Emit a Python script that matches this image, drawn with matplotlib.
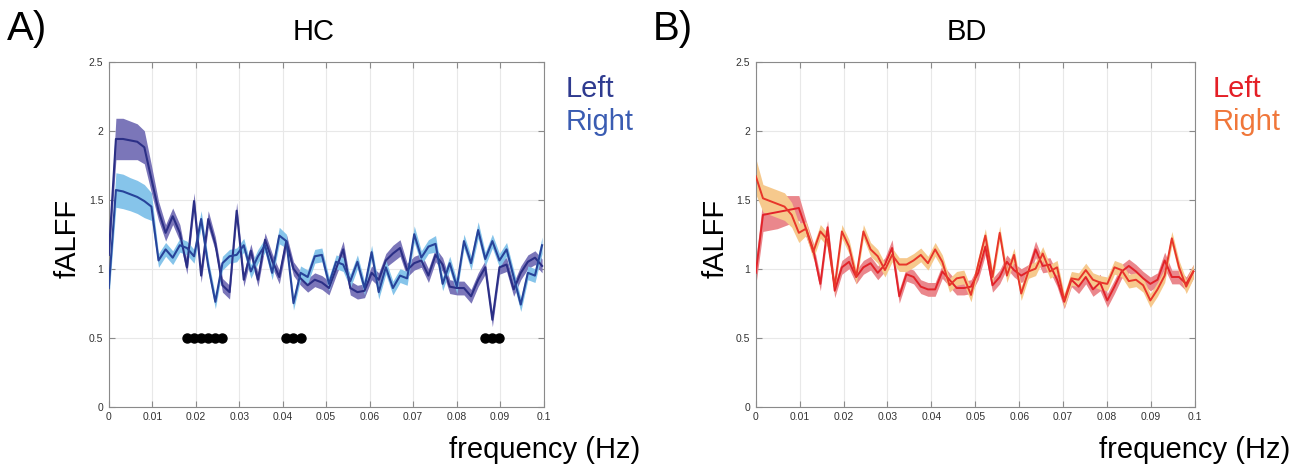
import numpy as np
import matplotlib
matplotlib.use("Agg")
import matplotlib.pyplot as plt

plt.rcParams['font.family'] = ['Liberation Sans', 'DejaVu Sans']

# Frequency bins (Hz): 306 volumes at TR = 2 s, kept up to 0.1 Hz
freq = np.arange(62) / 612.0

# ---- HC group: mean fALFF per frequency bin and its standard error ----
hc_left = [1.10, 1.94, 1.94, 1.93, 1.92, 1.88, 1.65, 1.42, 1.26, 1.38,
           1.26, 1.01, 1.49, 0.95, 1.36, 1.18, 0.88, 0.83, 1.42, 0.92,
           1.13, 0.92, 1.21, 1.06, 0.94, 1.20, 1.00, 0.93, 0.88, 0.92,
           0.90, 0.86, 1.00, 1.14, 0.86, 0.83, 0.84, 0.97, 0.92, 1.06,
           1.11, 1.15, 0.99, 1.04, 1.06, 0.95, 1.10, 1.03, 0.87, 0.86,
           0.86, 0.80, 0.92, 1.01, 0.63, 1.01, 1.03, 0.85, 0.97, 1.05,
           1.08, 1.02]
hc_left_se = [0.06, 0.15, 0.15, 0.14, 0.13, 0.12, 0.10, 0.07, 0.06, 0.06,
              0.06, 0.05, 0.06, 0.05, 0.06, 0.05, 0.05, 0.05, 0.06, 0.05,
              0.05, 0.05, 0.05, 0.05, 0.05, 0.05, 0.05, 0.05, 0.05, 0.05,
              0.05, 0.05, 0.05, 0.06, 0.05, 0.05, 0.05, 0.05, 0.05, 0.05,
              0.06, 0.06, 0.05, 0.05, 0.05, 0.05, 0.05, 0.05, 0.05, 0.05,
              0.05, 0.05, 0.05, 0.05, 0.05, 0.05, 0.05, 0.05, 0.05, 0.05,
              0.05, 0.05]
hc_right = [0.86, 1.57, 1.56, 1.54, 1.52, 1.49, 1.45, 1.06, 1.14, 1.08,
            1.17, 1.15, 1.09, 1.36, 1.02, 0.76, 1.04, 1.09, 1.10, 1.17,
            0.98, 1.09, 1.17, 0.97, 1.24, 1.20, 0.75, 0.97, 0.94, 1.09,
            1.10, 0.89, 1.05, 1.03, 0.91, 1.05, 0.86, 1.12, 0.83, 1.01,
            0.86, 0.95, 0.93, 1.25, 1.08, 1.16, 1.18, 0.89, 1.04, 0.87,
            1.20, 1.04, 1.28, 1.07, 1.20, 1.06, 1.14, 0.94, 0.74, 0.97,
            0.95, 1.17]
hc_right_se = [0.08, 0.125, 0.125, 0.12, 0.12, 0.12, 0.10, 0.05, 0.05, 0.05,
               0.05, 0.05, 0.05, 0.06, 0.05, 0.05, 0.05, 0.05, 0.05, 0.05,
               0.05, 0.05, 0.05, 0.05, 0.06, 0.05, 0.05, 0.05, 0.05, 0.05,
               0.05, 0.05, 0.05, 0.05, 0.05, 0.05, 0.05, 0.05, 0.05, 0.05,
               0.05, 0.05, 0.05, 0.06, 0.05, 0.05, 0.06, 0.05, 0.05, 0.05,
               0.05, 0.05, 0.06, 0.05, 0.05, 0.05, 0.05, 0.05, 0.05, 0.05,
               0.05, 0.06]

# Bins with a significant Left/Right difference in HC (marked at fALFF = 0.5)
hc_sig_bins = [11, 12, 13, 14, 15, 16, 25, 26, 27, 53, 54, 55]
sig_level = 0.5

# ---- BD group ----
bd_left = [0.97, 1.39, 1.40, 1.41, 1.42, 1.43, 1.44, 1.29, 1.14, 0.89,
           1.30, 0.84, 1.01, 1.05, 0.94, 1.01, 1.04, 0.97, 1.03, 1.15,
           0.80, 0.96, 0.94, 0.87, 0.85, 0.85, 0.98, 0.92, 0.86, 0.86,
           0.87, 0.97, 1.16, 0.88, 0.94, 1.05, 0.99, 0.95, 0.98, 1.14,
           1.02, 1.03, 0.92, 0.76, 0.92, 0.87, 0.94, 0.85, 0.90, 0.77,
           0.87, 0.98, 1.02, 0.98, 0.93, 0.89, 0.92, 1.06, 0.94, 0.94,
           0.89, 0.98]
bd_left_se = [0.09, 0.12, 0.12, 0.12, 0.11, 0.10, 0.09, 0.06, 0.05, 0.05,
              0.05, 0.05, 0.05, 0.05, 0.05, 0.05, 0.05, 0.05, 0.05, 0.06,
              0.05, 0.05, 0.05, 0.05, 0.05, 0.05, 0.05, 0.05, 0.05, 0.05,
              0.05, 0.05, 0.06, 0.05, 0.05, 0.05, 0.05, 0.05, 0.05, 0.06,
              0.05, 0.05, 0.05, 0.05, 0.05, 0.05, 0.05, 0.05, 0.06, 0.05,
              0.05, 0.05, 0.05, 0.05, 0.05, 0.05, 0.05, 0.06, 0.05, 0.05,
              0.05, 0.05]
bd_right = [1.67, 1.51, 1.49, 1.47, 1.45, 1.39, 1.26, 1.29, 1.12, 1.27,
            1.21, 0.87, 1.27, 1.16, 0.94, 1.27, 1.14, 1.09, 0.99, 1.10,
            1.03, 1.03, 1.06, 1.10, 1.04, 1.14, 1.05, 0.88, 0.93, 0.94,
            0.81, 1.03, 1.24, 0.94, 1.26, 0.95, 1.10, 0.82, 0.98, 1.00,
            1.11, 0.98, 1.01, 0.77, 0.93, 0.92, 0.99, 0.92, 0.90, 0.89,
            1.01, 0.99, 0.91, 0.92, 0.88, 0.77, 0.85, 0.95, 1.22, 1.01,
            0.87, 0.98]
bd_right_se = [0.13, 0.10, 0.10, 0.10, 0.10, 0.09, 0.07, 0.05, 0.05, 0.05,
               0.05, 0.05, 0.05, 0.05, 0.05, 0.05, 0.05, 0.05, 0.05, 0.05,
               0.05, 0.05, 0.05, 0.05, 0.05, 0.05, 0.05, 0.05, 0.05, 0.05,
               0.05, 0.05, 0.05, 0.05, 0.05, 0.05, 0.05, 0.05, 0.05, 0.05,
               0.05, 0.05, 0.05, 0.05, 0.05, 0.05, 0.05, 0.05, 0.05, 0.05,
               0.05, 0.05, 0.05, 0.05, 0.05, 0.05, 0.05, 0.05, 0.05, 0.05,
               0.05, 0.05]

x_ticks = [0, 0.01, 0.02, 0.03, 0.04, 0.05, 0.06, 0.07, 0.08, 0.09, 0.1]
x_tick_labels = ['0', '0.01', '0.02', '0.03', '0.04', '0.05', '0.06',
                 '0.07', '0.08', '0.09', '0.1']
y_ticks = [0, 0.5, 1, 1.5, 2, 2.5]
y_tick_labels = ['0', '0.5', '1', '1.5', '2', '2.5']

W, H = 1296, 467
fig = plt.figure(figsize=(W / 100, H / 100), dpi=100)
fig.patch.set_facecolor('white')


def px(x, y):
    """Pixel position (from the top-left corner) to figure fraction."""
    return x / W, 1 - y / H


def style_axes(ax):
    ax.set_xlim(0, 0.1)
    ax.set_ylim(0, 2.5)
    ax.set_xticks(x_ticks)
    ax.set_xticklabels(x_tick_labels)
    ax.set_yticks(y_ticks)
    ax.set_yticklabels(y_tick_labels)
    ax.grid(True, color='#e8e8e8', linewidth=0.8)
    ax.set_axisbelow(True)
    for s in ax.spines.values():
        s.set_color('#8a8a8a')
        s.set_linewidth(0.8)
    ax.tick_params(direction='in', length=4, width=0.8, color='#8a8a8a',
                   labelsize=7.5, labelcolor='#333333', top=True, right=True,
                   labeltop=False, labelright=False, pad=4)


def draw_group(ax, y, se, face, line, z):
    y = np.asarray(y)
    se = np.asarray(se)
    ax.fill_between(freq, y - se, y + se, color=face, linewidth=0, zorder=z)
    return y


# ---- Panel A: HC ----
axA = fig.add_axes([108.8 / W, 1 - 406.7 / H, 434.7 / W, 345 / H])
style_axes(axA)
hl = draw_group(axA, hc_left, hc_left_se, '#7b76b9', '#2b2f86', 1)
hr = draw_group(axA, hc_right, hc_right_se, '#86c4ea', '#27439a', 1.1)
axA.plot(freq, hl, color='#2b2f86', linewidth=1.5, zorder=3)
axA.plot(freq, hr, color='#27439a', linewidth=1.5, zorder=3)
axA.plot(freq[hc_sig_bins], [sig_level] * len(hc_sig_bins), 'o',
         color='black', markersize=6.5, zorder=4)

# ---- Panel B: BD ----
axB = fig.add_axes([755.8 / W, 1 - 406.7 / H, 439 / W, 345 / H])
style_axes(axB)
bl = draw_group(axB, bd_left, bd_left_se, '#ea878c', '#e2232a', 1)
br = draw_group(axB, bd_right, bd_right_se, '#f6c98d', '#e8362a', 1.1)
axB.plot(freq, bl, color='#e2232a', linewidth=1.4, zorder=3)
axB.plot(freq, br, color='#e8362a', linewidth=1.4, zorder=3)

# ---- Titles, axis labels, panel letters and colour keys ----
fig.text(*px(7, 29), 'A)', fontsize=29, ha='left', va='center')
fig.text(*px(653, 29), 'B)', fontsize=29, ha='left', va='center')
fig.text(*px(314, 32), 'HC', fontsize=21, ha='center', va='center')
fig.text(*px(967, 32), 'BD', fontsize=21, ha='center', va='center')

for xc in (68, 716):
    fig.text(*px(xc, 238), 'fALFF', fontsize=21, rotation=90,
             ha='center', va='center')
for xr in (640, 1290):
    fig.text(*px(xr, 450), 'frequency (Hz)', fontsize=21,
             ha='right', va='center')

fig.text(*px(566, 89), 'Left', fontsize=21, color='#2e3a8f',
         ha='left', va='center')
fig.text(*px(566, 122), 'Right', fontsize=21, color='#3a5cb2',
         ha='left', va='center')
fig.text(*px(1213, 89), 'Left', fontsize=21, color='#e41f26',
         ha='left', va='center')
fig.text(*px(1213, 122), 'Right', fontsize=21, color='#f0773a',
         ha='left', va='center')

fig.savefig('out.png', dpi=100, facecolor='white')
